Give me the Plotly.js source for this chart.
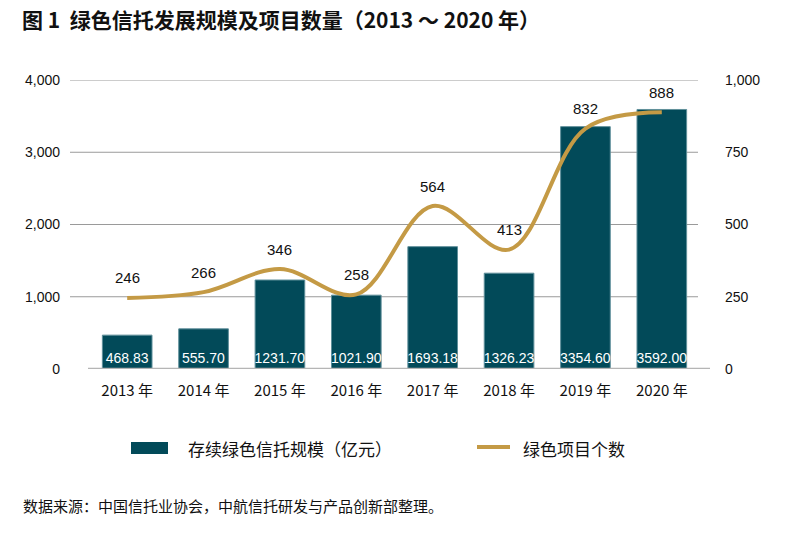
<!DOCTYPE html>
<html>
<head>
<meta charset="utf-8">
<script src="https://cdn.plot.ly/plotly-3.0.1.min.js"></script>
<style>html,body{margin:0;padding:0;background:#fff;}#chart{width:801px;height:534px;}</style>
</head>
<body>
<div id="chart"></div>
<script>
var categories = ["2013 年","2014 年","2015 年","2016 年","2017 年","2018 年","2019 年","2020 年"];
var scaleValues = [468.83, 555.70, 1231.70, 1021.90, 1693.18, 1326.23, 3354.60, 3592.00];
var projectCounts = [246, 266, 346, 258, 564, 413, 832, 888];
var leftTicks = [0, 1000, 2000, 3000, 4000];
var rightTicks = [0, 250, 500, 750, 1000];
var barName = "存续绿色信托规模（亿元）";
var lineName = "绿色项目个数";
var titleText = "图 1  绿色信托发展规模及项目数量（2013 ～ 2020 年）";
var sourceText = "数据来源：中国信托业协会，中航信托研发与产品创新部整理。";

var CJK = "Noto Sans CJK SC, sans-serif";
var barColor = "#024a59";
var lineColor = "#c49a45";

// plot area in pixels: left 89, right 700, top 80, bottom 369
function px(x){ return (x - 89) / 611; }
function py(y){ return (369 - y) / 289; }

var bars = {
  type: "bar", x: categories, y: scaleValues, name: barName,
  marker: {color: barColor, line: {color: "#5f8f9a", width: 1}},
  text: scaleValues.map(function(v){return v.toFixed(2);}),
  textposition: "inside", insidetextanchor: "start", textangle: 0,
  constraintext: "none", cliponaxis: false,
  textfont: {family: "Liberation Sans Narrow, Liberation Sans, sans-serif", size: 14, color: "#ffffff"},
  hoverinfo: "skip", showlegend: false
};
var line = {
  type: "scatter", mode: "lines", x: categories, y: projectCounts, yaxis: "y2",
  name: lineName, line: {color: lineColor, width: 4, shape: "spline", smoothing: 1},
  cliponaxis: false, hoverinfo: "skip", showlegend: false
};

var shapes = [];
leftTicks.forEach(function(t){
  if (t === 0) return;
  shapes.push({type: "line", xref: "paper", yref: "y", x0: px(70), x1: px(698), y0: t, y1: t,
    line: {color: "#9a9a9a", width: 1}, layer: "below"});
});
shapes.push({type: "line", xref: "paper", yref: "y", x0: px(88), x1: px(710), y0: 0, y1: 0,
  line: {color: "#b5b5b5", width: 2.5}, layer: "above"});
// legend swatches
shapes.push({type: "rect", xref: "paper", yref: "paper", x0: px(131), x1: px(168),
  y0: py(454), y1: py(442), fillcolor: barColor, line: {width: 0}});
shapes.push({type: "line", xref: "paper", yref: "paper", x0: px(477), x1: px(510),
  y0: py(447), y1: py(447), line: {color: lineColor, width: 4}});

var annotations = [
  {xref: "paper", yref: "paper", x: px(186), y: py(448), xanchor: "left", yanchor: "middle",
   text: barName, showarrow: false, font: {family: CJK, size: 17, color: "#111"}},
  {xref: "paper", yref: "paper", x: px(521), y: py(448), xanchor: "left", yanchor: "middle",
   text: lineName, showarrow: false, font: {family: CJK, size: 17, color: "#111"}},
  {xref: "paper", yref: "paper", x: px(21), y: py(505), xanchor: "left", yanchor: "middle",
   text: sourceText, showarrow: false, font: {family: CJK, size: 15, color: "#111"}}
];
categories.forEach(function(c, i){
  annotations.push({x: c, y: projectCounts[i], xref: "x", yref: "y2", yshift: 20,
    text: String(projectCounts[i]), showarrow: false, yanchor: "middle",
    font: {family: "Liberation Sans, sans-serif", size: 15, color: "#111"}});
});

var layout = {
  width: 801, height: 534,
  margin: {l: 89, r: 101, t: 80, b: 165},
  paper_bgcolor: "#fff", plot_bgcolor: "#fff",
  title: {text: "<b>" + titleText + "</b>", x: 22/801, xanchor: "left", y: 1 - 21/534, yanchor: "middle",
          font: {family: CJK, size: 21, color: "#111"}},
  bargap: 0.35,
  xaxis: {type: "category", showgrid: false, zeroline: false, showline: false, ticks: "",
          tickfont: {family: CJK, size: 15, color: "#111"}, ticklabelstandoff: 11},
  yaxis: {range: [0, 4000], tickvals: leftTicks, tickformat: ",", showgrid: false, zeroline: false,
          showline: false, ticks: "", ticklabelstandoff: 28,
          tickfont: {family: "Liberation Sans, sans-serif", size: 14, color: "#111"}},
  yaxis2: {range: [0, 1000], tickvals: rightTicks, tickformat: ",", overlaying: "y", side: "right",
           showgrid: false, zeroline: false, showline: false, ticks: "", ticklabelstandoff: 24,
           tickfont: {family: "Liberation Sans, sans-serif", size: 14, color: "#111"}},
  shapes: shapes, annotations: annotations, showlegend: false
};

Plotly.newPlot("chart", [bars, line], layout, {displayModeBar: false, staticPlot: true});
</script>
</body>
</html>
